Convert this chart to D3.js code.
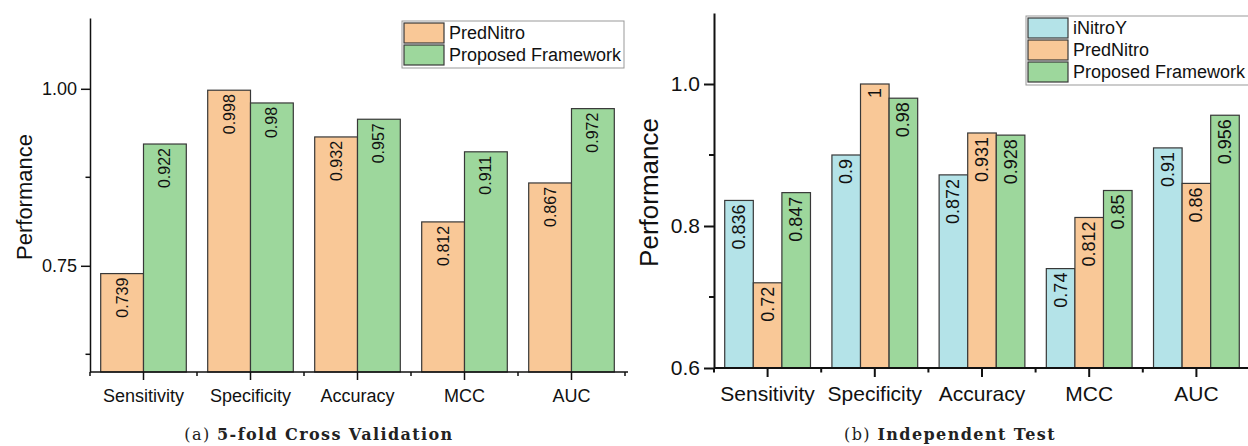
<!DOCTYPE html>
<html>
<head>
<meta charset="utf-8">
<script src="https://cdn.jsdelivr.net/npm/d3@7"></script>
<style>
  body { margin: 0; background: #fff; }
  svg { display: block; font-family: "Liberation Sans", Arial, sans-serif; }
</style>
</head>
<body>
<svg id="chart" width="1248" height="446"></svg>
<script>
const categories = ["Sensitivity", "Specificity", "Accuracy", "MCC", "AUC"];

// (a) 5-fold cross validation
const cvPredNitro = [0.739, 0.998, 0.932, 0.812, 0.867];
const cvProposed = [0.922, 0.98, 0.957, 0.911, 0.972];

// (b) independent test
const itINitroY = [0.836, 0.9, 0.872, 0.74, 0.91];
const itPredNitro = [0.72, 1, 0.931, 0.812, 0.86];
const itProposed = [0.847, 0.98, 0.928, 0.85, 0.956];

const colors = { iNitroY: "#b4e3e8", PredNitro: "#f9c897", Proposed: "#9dd79c" };
const stroke = "#383838";

const svg = d3.select("#chart");

function panel(opt) {
  const g = svg.append("g");
  const x = d3.scaleBand().domain(categories).range([opt.left, opt.right]).paddingInner(0.2).paddingOuter(0.1);
  const y = d3.scaleLinear().domain([0.6, 1.1]).range([opt.bottom, opt.top]);
  const sub = d3.scaleBand().domain(opt.series.map((s) => s.name)).range([0, x.bandwidth()]);

  // bars
  opt.series.forEach((s) => {
    const bars = g.append("g");
    bars.selectAll("rect")
      .data(s.values)
      .join("rect")
      .attr("x", (d, i) => x(categories[i]) + sub(s.name))
      .attr("y", (d) => y(d))
      .attr("width", sub.bandwidth())
      .attr("height", (d) => opt.bottom - y(d))
      .attr("fill", s.color)
      .attr("stroke", stroke)
      .attr("stroke-width", 1.2);

    bars.selectAll("text")
      .data(s.values)
      .join("text")
      .attr("transform", (d, i) => {
        const cx = x(categories[i]) + sub(s.name) + sub.bandwidth() / 2;
        return `translate(${cx},${y(d) + 4}) rotate(-90)`;
      })
      .attr("text-anchor", "end")
      .attr("dominant-baseline", "central")
      .attr("font-size", opt.valueSize)
      .attr("fill", "#111")
      .text((d) => String(d));
  });

  // y axis
  const yAxis = g.append("g").attr("transform", `translate(${opt.left},0)`);
  yAxis.call(d3.axisLeft(y).tickValues(opt.yTicks).tickSize(opt.tick).tickPadding(4)
    .tickFormat(d3.format(opt.yFormat)).tickSizeOuter(0));
  yAxis.selectAll(".domain").attr("stroke", "#111").attr("stroke-width", opt.lw);
  yAxis.selectAll(".tick line").attr("stroke", "#111").attr("stroke-width", opt.lw);
  yAxis.selectAll(".tick text").attr("font-size", opt.tickSize).attr("fill", "#111")
    .attr("font-family", "Liberation Sans, Arial, sans-serif");
  yAxis.selectAll(".minor")
    .data(opt.yMinor)
    .join("line")
    .attr("class", "minor")
    .attr("x1", -opt.tick / 2).attr("x2", 0)
    .attr("y1", (d) => y(d)).attr("y2", (d) => y(d))
    .attr("stroke", "#111").attr("stroke-width", opt.lw);

  // x axis
  const xAxis = g.append("g").attr("transform", `translate(0,${opt.bottom})`);
  xAxis.call(d3.axisBottom(x).tickSize(opt.tick - 1).tickPadding(9).tickSizeOuter(0));
  xAxis.select(".domain").attr("stroke", "#111").attr("stroke-width", opt.lw)
    .attr("d", `M${opt.left},0H${opt.axisEnd}`);
  xAxis.selectAll(".tick line").attr("stroke", "#111").attr("stroke-width", opt.lw);
  xAxis.selectAll(".tick text").attr("font-size", opt.catSize).attr("fill", "#111")
    .attr("font-family", "Liberation Sans, Arial, sans-serif");
  const step = x.step();
  xAxis.selectAll(".minor")
    .data(d3.range(categories.length + 1))
    .join("line")
    .attr("class", "minor")
    .attr("x1", (i) => x(categories[0]) - x.step() * x.paddingOuter() + i * step)
    .attr("x2", (i) => x(categories[0]) - x.step() * x.paddingOuter() + i * step)
    .attr("y1", 0).attr("y2", (opt.tick - 1) / 2)
    .attr("stroke", "#111").attr("stroke-width", opt.lw);

  // y title
  g.append("text")
    .attr("transform", `translate(${opt.titleX},${(opt.top + opt.bottom) / 2 + 2}) rotate(-90)`)
    .attr("text-anchor", "middle")
    .attr("dominant-baseline", "central")
    .attr("font-size", opt.titleSize)
    .attr("fill", "#111")
    .text("Performance");

  // legend
  const lg = g.append("g").attr("transform", `translate(${opt.legend.x},${opt.legend.y})`);
  lg.append("rect")
    .attr("width", opt.legend.w)
    .attr("height", opt.series.length * 22 + 3)
    .attr("fill", "#fff")
    .attr("stroke", "#999")
    .attr("stroke-width", 1);
  opt.series.forEach((s, i) => {
    lg.append("rect")
      .attr("x", 2).attr("y", 2 + i * 22)
      .attr("width", 40).attr("height", 20)
      .attr("fill", s.color).attr("stroke", stroke).attr("stroke-width", 1.2);
    lg.append("text")
      .attr("x", 47).attr("y", 12 + i * 22)
      .attr("dominant-baseline", "central")
      .attr("font-size", 18)
      .attr("fill", "#111")
      .text(s.label);
  });

  // caption
  const cap = g.append("text")
    .attr("x", opt.captionX).attr("y", 440)
    .attr("text-anchor", "middle")
    .attr("font-family", "DejaVu Serif, Liberation Serif, serif")
    .attr("font-size", 16)
    .attr("letter-spacing", 1.4)
    .attr("fill", "#222");
  cap.append("tspan").text(opt.captionTag + " ");
  cap.append("tspan").attr("font-weight", "bold").text(opt.caption);
}

panel({
  left: 90, right: 625, top: 18, bottom: 372, axisEnd: 628,
  lw: 1.5, tick: 9,
  yTicks: [0.75, 1.0], yMinor: [0.625, 0.875], yFormat: ".2f",
  tickSize: 18, catSize: 18, valueSize: 16, titleSize: 22, titleX: 24,
  series: [
    { name: "PredNitro", label: "PredNitro", color: colors.PredNitro, values: cvPredNitro },
    { name: "Proposed", label: "Proposed Framework", color: colors.Proposed, values: cvProposed }
  ],
  legend: { x: 402, y: 21, w: 222 },
  captionX: 319, captionTag: "(a)", caption: "5-fold Cross Validation"
});

panel({
  left: 714, right: 1250, top: 13, bottom: 368, axisEnd: 1250,
  lw: 2, tick: 10,
  yTicks: [0.6, 0.8, 1.0], yMinor: [0.7, 0.9], yFormat: ".1f",
  tickSize: 21, catSize: 21, valueSize: 18, titleSize: 26, titleX: 649,
  series: [
    { name: "iNitroY", label: "iNitroY", color: colors.iNitroY, values: itINitroY },
    { name: "PredNitro", label: "PredNitro", color: colors.PredNitro, values: itPredNitro },
    { name: "Proposed", label: "Proposed Framework", color: colors.Proposed, values: itProposed }
  ],
  legend: { x: 1026, y: 16, w: 230 },
  captionX: 950, captionTag: "(b)", caption: "Independent Test"
});
</script>
</body>
</html>
